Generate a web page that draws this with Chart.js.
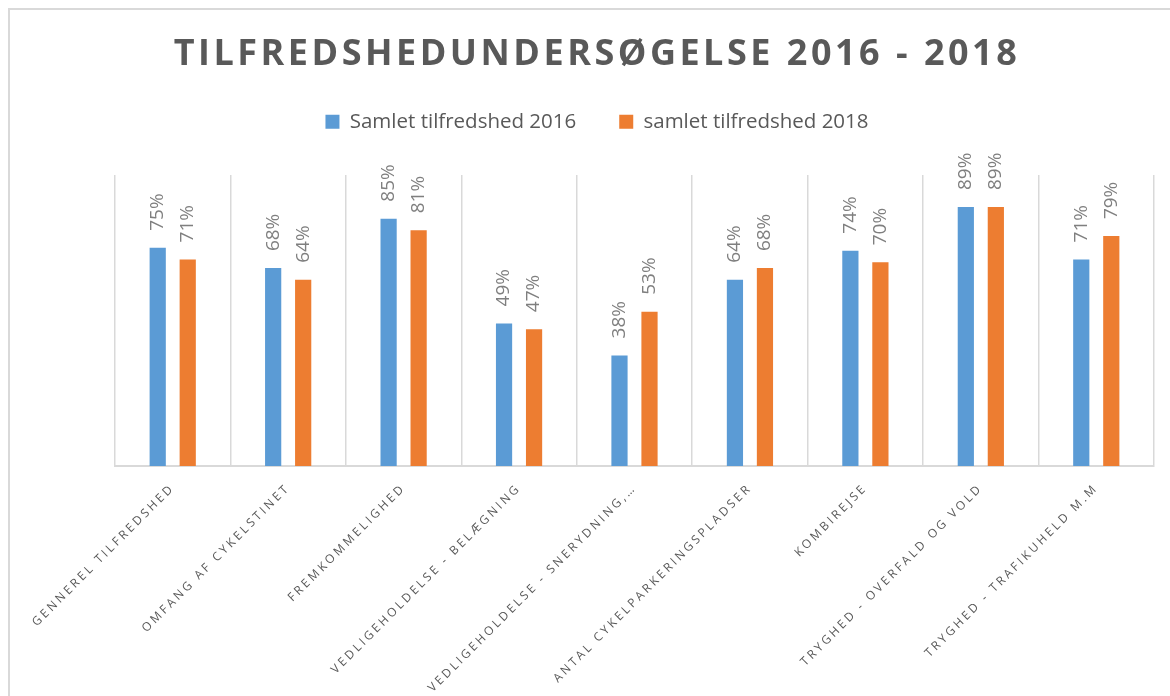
<!DOCTYPE html>
<html>
<head>
<meta charset="utf-8">
<script src="https://cdn.jsdelivr.net/npm/chart.js@4.4.1/dist/chart.umd.min.js"></script>
<style>
  html, body { margin: 0; padding: 0; background: #ffffff; }
  #wrap { position: relative; width: 1170px; height: 696px; overflow: hidden; }
  #frame { position: absolute; left: 8px; top: 8px; width: 1300px; height: 900px;
           border: 2px solid #d9d9d9; pointer-events: none; }
</style>
</head>
<body>
<div id="wrap">
  <canvas id="c" width="1170" height="696"></canvas>
  <div id="frame"></div>
</div>
<script>
const chartTitle = 'TILFREDSHEDUNDERSØGELSE 2016 - 2018';
const categories = [
  'GENNEREL TILFREDSHED',
  'OMFANG AF CYKELSTINET',
  'FREMKOMMELIGHED',
  'VEDLIGEHOLDELSE - BELÆGNING',
  'VEDLIGEHOLDELSE - SNERYDNING,…',
  'ANTAL CYKELPARKERINGSPLADSER',
  'KOMBIREJSE',
  'TRYGHED - OVERFALD OG VOLD',
  'TRYGHED - TRAFIKUHELD M.M'
];
const seriesNames = ['Samlet tilfredshed 2016', 'samlet tilfredshed 2018'];
const values2016 = [75, 68, 85, 49, 38, 64, 74, 89, 71];
const values2018 = [71, 64, 81, 47, 53, 68, 70, 89, 79];

const FONT = "'Open Sans', 'DejaVu Sans', sans-serif";

function withSpacing(ctx, spacing, fn) {
  const prev = ctx.letterSpacing;
  ctx.letterSpacing = spacing;
  try { fn(); } finally { ctx.letterSpacing = prev || '0px'; }
}

const spacingPlugin = {
  id: 'spacingPlugin',
  beforeDraw(chart) {
    const tb = chart.titleBlock;
    if (tb && !tb._spPatched) {
      const orig = tb.draw.bind(tb);
      tb.draw = function (area) { withSpacing(chart.ctx, '3.5px', () => orig(area)); };
      tb._spPatched = true;
    }
    const sx = chart.scales.x;
    if (sx && !sx._spPatched) {
      const origL = sx.drawLabels.bind(sx);
      sx.drawLabels = function (area) { withSpacing(chart.ctx, '2.8px', () => origL(area)); };
      sx._spPatched = true;
    }
  }
};

const valueLabels = {
  id: 'valueLabels',
  afterDatasetsDraw(chart) {
    const ctx = chart.ctx;
    ctx.save();
    ctx.font = '19px ' + FONT;
    ctx.fillStyle = '#7f7f7f';
    ctx.textAlign = 'left';
    ctx.textBaseline = 'middle';
    chart.data.datasets.forEach((ds, di) => {
      const meta = chart.getDatasetMeta(di);
      meta.data.forEach((bar, i) => {
        ctx.save();
        ctx.translate(bar.x, bar.y - 17);
        ctx.rotate(-Math.PI / 2);
        ctx.fillText(ds.data[i] + '%', 0, 0);
        ctx.restore();
      });
    });
    ctx.restore();
  }
};

new Chart(document.getElementById('c'), {
  type: 'bar',
  data: {
    labels: categories,
    datasets: [
      { label: seriesNames[0], data: values2016, backgroundColor: '#5b9bd5',
        categoryPercentage: 0.52, barPercentage: 0.54 },
      { label: seriesNames[1], data: values2018, backgroundColor: '#ed7d31',
        categoryPercentage: 0.52, barPercentage: 0.54 }
    ]
  },
  options: {
    responsive: false,
    animation: false,
    devicePixelRatio: 1,
    layout: { padding: { left: 40, right: 16, top: 0, bottom: 0 } },
    plugins: {
      title: {
        display: true,
        text: chartTitle,
        color: '#595959',
        font: { family: FONT, size: 36, weight: 'bold', lineHeight: 0.75 },
        padding: { top: 41.5, bottom: 0 }
      },
      subtitle: {
        display: true,
        text: '',
        weight: 500,
        font: { size: 1, lineHeight: 1 },
        padding: { top: 0, bottom: 32 }
      },
      legend: {
        display: true,
        position: 'top',
        labels: {
          color: '#595959',
          font: { family: FONT, size: 20.5 },
          boxWidth: 14,
          boxHeight: 14,
          padding: 43
        }
      },
      tooltip: { enabled: false }
    },
    scales: {
      x: {
        grid: { display: true, color: '#d9d9d9', lineWidth: 1.5, drawTicks: false, offset: true },
        border: { display: true, color: '#d9d9d9', width: 2 },
        ticks: {
          autoSkip: false,
          minRotation: 45,
          maxRotation: 45,
          color: '#595959',
          font: { family: FONT, size: 12 },
          padding: 15
        },
        afterFit(scale) { scale.height = 230; }
      },
      y: {
        display: true,
        min: 0,
        max: 100,
        grid: { display: false },
        border: { display: false },
        ticks: { display: false },
        afterFit(scale) { scale.width = 75; }
      }
    }
  },
  plugins: [spacingPlugin, valueLabels]
});
</script>
</body>
</html>
